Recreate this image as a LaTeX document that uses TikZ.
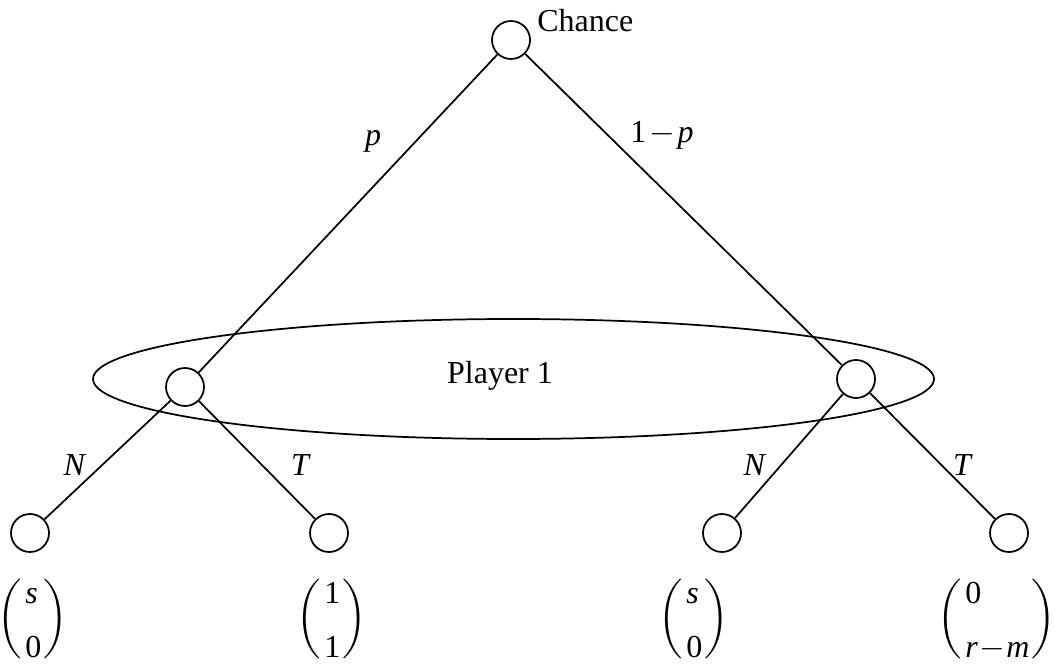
\documentclass[tikz,border=0pt]{standalone}
\usepackage{fontspec}
\setmainfont{Liberation Serif}
\usepackage{amsmath}

\newcommand{\parht}{\vcenter{\hrule height 54pt width 0pt}}
\newcommand{\payvec}[2]{$\left(\parht\right.$\hspace{1pt}\raisebox{-4pt}{\renewcommand{\arraystretch}{0.8}\begin{tabular}{@{}l@{}}#1\\[17pt]#2\end{tabular}}\hspace{0.5pt}$\left.\parht\right)$}

\tikzset{
  gnode/.style={draw, circle, line width=1.3pt, minimum size=28.5pt, inner sep=0pt, fill=white},
  branch/.style={line width=1.3pt},
  lbl/.style={anchor=base, inner sep=0pt}
}

\begin{document}
\begin{tikzpicture}[x=0.75pt, y=-0.75pt, font=\fontsize{24}{29}\selectfont]
  % Page
  \useasboundingbox (0, 0) rectangle (1055, 666);

  % Information set of player 1
  \draw[branch] (513.5, 379) ellipse [x radius=420.5, y radius=60];
  \node[lbl] (pname) at (500, 383) {Player 1};

  % Decision nodes
  \node[gnode] (chance) at (511, 40) {};
  \node[gnode] (dl) at (185, 387) {};
  \node[gnode] (dr) at (856, 379) {};

  % Terminal nodes
  \node[gnode] (ln) at (30, 533) {};
  \node[gnode] (lt) at (329, 533) {};
  \node[gnode] (rn) at (722, 533) {};
  \node[gnode] (rt) at (1009, 533) {};

  % Branches
  \draw[branch] (chance) -- (dl);
  \draw[branch] (chance) -- (dr);
  \draw[branch] (dl) -- (ln);
  \draw[branch] (dl) -- (lt);
  \draw[branch] (dr) -- (rn);
  \draw[branch] (dr) -- (rt);

  % Labels
  \node[anchor=base west, inner sep=0pt] (cname) at (537, 32) {Chance};
  \node[lbl] (probp) at (373, 146) {\textit{p}};
  \node[lbl] (probq) at (662, 143) {1\hspace{2pt}$-$\hspace{2pt}\textit{p}};
  \node[lbl] (actln) at (75, 475) {\textit{N}};
  \node[lbl] (actlt) at (301, 475) {\textit{T}};
  \node[lbl] (actrn) at (755, 475) {\textit{N}};
  \node[lbl] (actrt) at (963, 475) {\textit{T}};

  % Payoffs
  \node[lbl] (payln) at (33, 627) {\payvec{\textit{s}}{0}};
  \node[lbl] (paylt) at (332, 627) {\payvec{1}{1}};
  \node[lbl] (payrn) at (694, 627) {\payvec{\textit{s}}{0}};
  \node[lbl] (payrt) at (997, 627) {\payvec{0}{\textit{r}\hspace{1pt}$-$\hspace{1pt}\textit{m}}};
\end{tikzpicture}
\end{document}
